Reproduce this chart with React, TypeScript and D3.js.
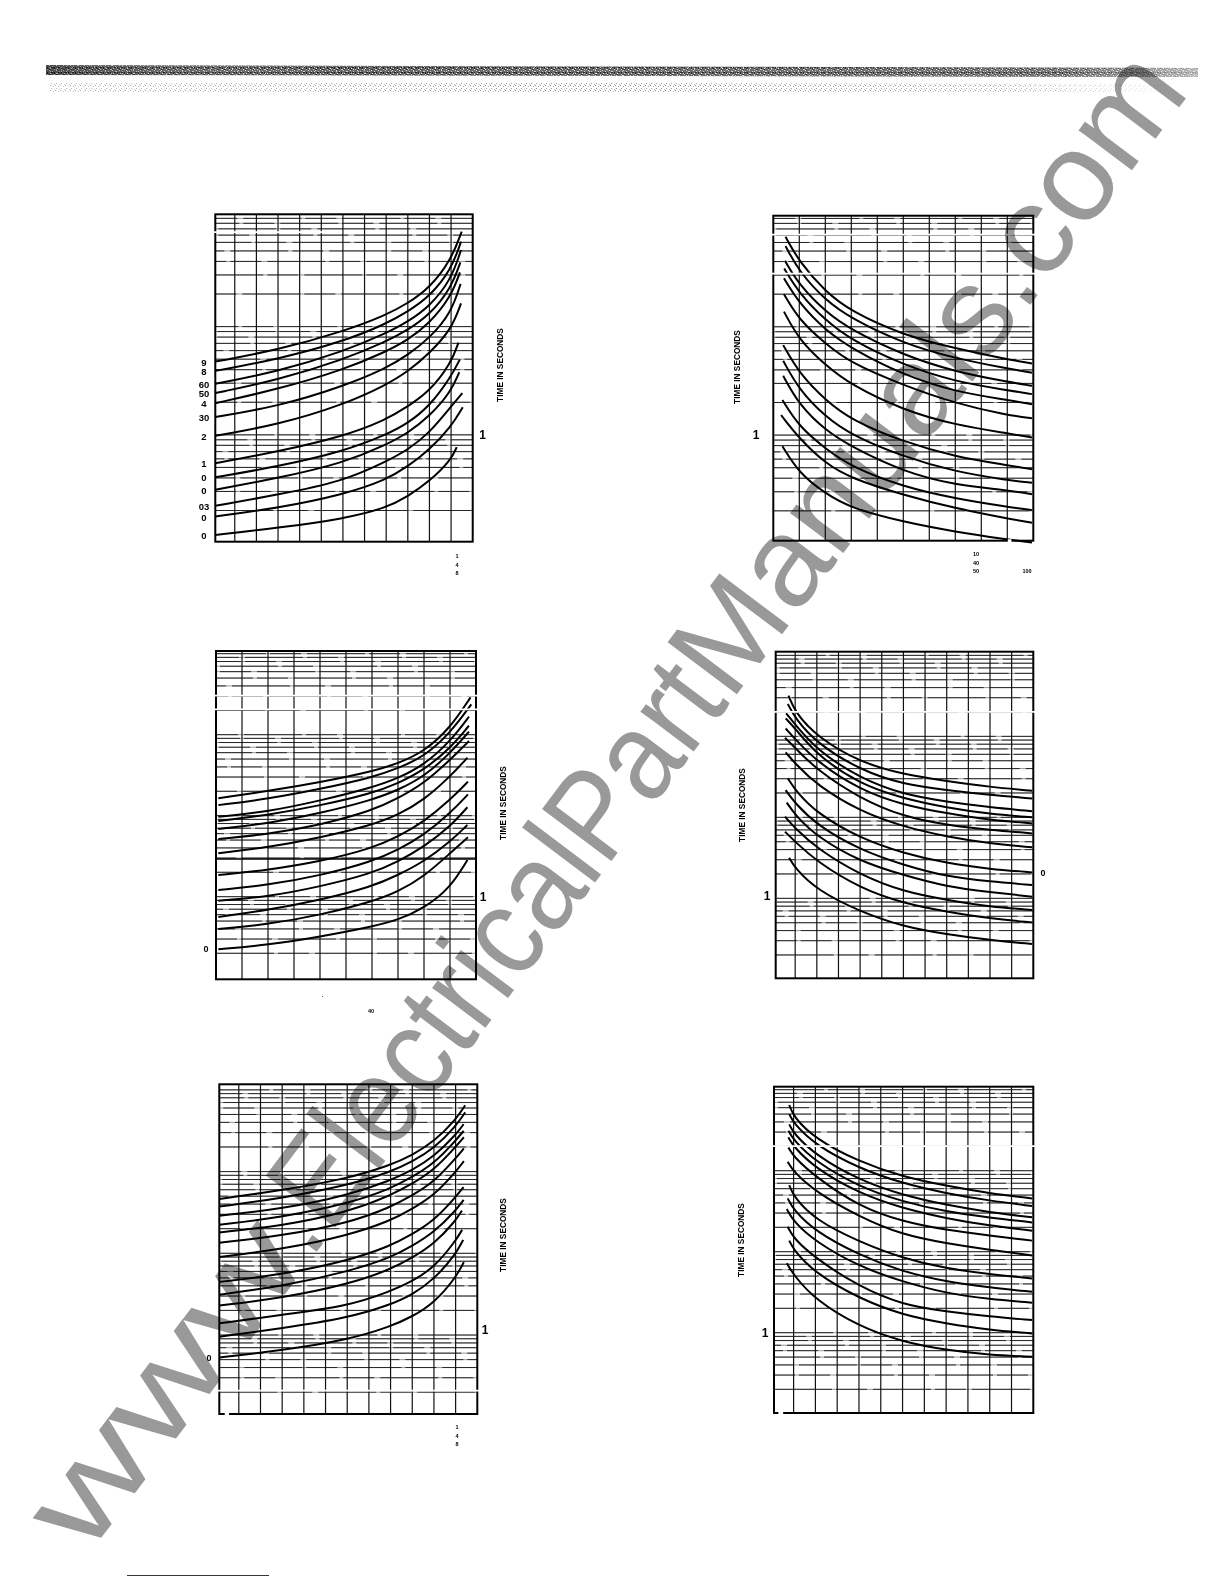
import * as d3 from "d3";

const FONT = "'Liberation Sans', Arial, sans-serif";

// panel 1 - rising curves, 12 divisions
const stationsA = [0, 2.9, 5.9, 7.9, 8.9, 9.9, 10.9];
const endsA = [11.39, 11.36, 11.36, 11.33, 11.31, 11.34, 11.36, 11.24, 11.31, 11.28, 11.42, 11.44, 11.16];
const timesA = [
  [4.75, 6.09, 8.99, 12.8, 16.4, 22.6, 41.2, 75.3],
  [3.9, 5.0, 7.27, 10.6, 13.8, 18.9, 33.3, 61],
  [2.96, 3.84, 5.87, 8.67, 11.1, 15.3, 27, 51],
  [2.43, 3.22, 4.93, 7.27, 9.31, 12.8, 22.6, 39.2],
  [1.96, 2.64, 3.98, 5.87, 7.53, 10.7, 18.9, 31.7],
  [1.46, 1.83, 2.8, 4.12, 5.47, 7.8, 13.3, 24.8],
  [0.98, 1.24, 1.89, 2.89, 3.84, 5.67, 9.31, 16.4],
  [0.547, 0.7, 0.965, 1.38, 1.83, 2.51, 4.59, 7.1],
  [0.405, 0.51, 0.7, 1, 1.28, 1.83, 3.45, 5.0],
  [0.311, 0.398, 0.547, 0.808, 1.04, 1.48, 2.51, 3.8],
  [0.221, 0.28, 0.371, 0.567, 0.727, 1.04, 1.83, 2.43],
  [0.176, 0.211, 0.28, 0.384, 0.51, 0.727, 1.19, 1.8],
  [0.119, 0.138, 0.167, 0.211, 0.27, 0.371, 0.587, 0.77],
];
const labelsA = ["9", "8", "60", "50", "4", "30", "2", "1", "0", "0", "03", "0", "0"];

// panel 2 - falling curves, 10 divisions
const stationsB = [1, 2, 3, 5, 7, 9, 9.95];
const startsB = [0.47, 0.47, 0.45, 0.42, 0.41, 0.41, 0.41, 0.38, 0.38, 0.38, 0.35, 0.3, 0.35];
const timesB = [
  [67.7, 39.8, 21.1, 13.8, 8.37, 6.31, 5.0, 4.59],
  [55.5, 32.2, 17.6, 11.9, 7.01, 5.1, 4.12, 3.76],
  [40.6, 24.3, 13.8, 9.31, 5.47, 3.84, 3.11, 2.85],
  [34.5, 20.3, 11.5, 7.53, 4.43, 3.11, 2.6, 2.39],
  [28, 16.4, 9.31, 6.31, 3.58, 2.51, 2.11, 1.93],
  [20, 11.5, 7.01, 4.59, 2.89, 1.96, 1.53, 1.43],
  [13.8, 7.53, 4.43, 2.89, 1.7, 1.24, 1.04, 0.95],
  [6.77, 3.71, 2.11, 1.38, 0.867, 0.631, 0.529, 0.483],
  [4.86, 2.6, 1.48, 1, 0.631, 0.459, 0.384, 0.363],
  [3.53, 1.89, 1.11, 0.78, 0.459, 0.345, 0.311, 0.285],
  [2.11, 1.19, 0.753, 0.51, 0.333, 0.26, 0.218, 0.203],
  [1.53, 0.93, 0.547, 0.398, 0.28, 0.211, 0.17, 0.155],
  [0.79, 0.443, 0.289, 0.211, 0.158, 0.128, 0.109, 0.102],
];

// panel 3 - rising curves, 10 divisions
const stationsC = [0.09, 2, 4, 6, 7, 8, 9];
const endsC = [9.79, 9.82, 9.73, 9.73, 9.73, 9.73, 9.67, 9.69, 9.69, 9.67, 9.67, 9.69, 9.67];
const timesC = [
  [16.4, 20.1, 25.8, 35, 44.2, 61.6, 120, 289],
  [13.5, 16.1, 21.3, 29.5, 38.4, 53.5, 104, 237],
  [9.7, 11.2, 15.3, 22.2, 28.9, 42.2, 81.9, 167],
  [8.6, 10.2, 13.3, 18.9, 25, 36.6, 67.7, 129],
  [6.84, 8.03, 10.7, 15.6, 20.7, 30.3, 58.9, 109],
  [5.15, 5.89, 7.66, 11.5, 16.4, 25, 48.7, 83.5],
  [3.43, 4.06, 5.35, 7.66, 10.2, 15.6, 30.3, 52],
  [1.85, 2.13, 2.71, 3.95, 5.5, 8.42, 15.6, 26.3],
  [1.21, 1.39, 1.82, 2.71, 3.77, 5.77, 10.7, 18.3],
  [0.893, 1, 1.33, 1.94, 2.71, 4.14, 7.3, 12.7],
  [0.563, 0.684, 0.91, 1.33, 1.85, 2.71, 4.77, 7.66],
  [0.398, 0.455, 0.593, 0.868, 1.15, 1.77, 3.43, 5.41],
  [0.224, 0.253, 0.32, 0.426, 0.515, 0.72, 1.27, 2.84],
];

// panel 4 - falling curves, 12 divisions
const stationsD = [0.9, 1.9, 3.9, 5.9, 7.9, 9.9, 11.85];
const startsD = [0.59, 0.56, 0.48, 0.46, 0.46, 0.43, 0.46, 0.56, 0.46, 0.51, 0.43, 0.43, 0.62];
const timesD = [
  [318, 198, 99, 47.7, 33.9, 28.1, 23.7, 21.3],
  [251, 167, 81.9, 38.4, 25.5, 21.7, 18.9, 17.1],
  [192, 141, 67.7, 30.3, 19.2, 15.6, 13.3, 11.9],
  [167, 125, 58.9, 25.5, 17.1, 13.2, 11, 10],
  [125, 92.5, 48.7, 21.7, 14.2, 11.2, 9.25, 8.42],
  [96, 72.3, 38.4, 17.1, 10.2, 8.03, 6.97, 6.34],
  [63.4, 46.3, 25, 11.8, 7.66, 5.77, 4.77, 4.26],
  [30.3, 21.7, 11.2, 5.5, 3.6, 2.71, 2.3, 2.09],
  [21.7, 14.9, 8.03, 3.95, 2.58, 1.85, 1.61, 1.46],
  [15.2, 10.7, 5.77, 2.84, 1.94, 1.39, 1.19, 1.05],
  [10.2, 7.3, 4.14, 1.94, 1.21, 0.953, 0.787, 0.72],
  [6.65, 5, 2.84, 1.33, 0.868, 0.684, 0.563, 0.505],
  [3.18, 2.35, 1.27, 0.684, 0.447, 0.36, 0.305, 0.273],
];

// panel 5 - rising curves, 12 divisions
const stationsE = [0, 2.9, 5.9, 7.9, 8.9, 9.9, 10.9];
const endsE = [11.34, 11.34, 11.27, 11.27, 11.28, 11.28, 11.28, 11.27, 11.27, 11.19, 11.2, 11.25, 11.28];
const timesE = [
  [46.3, 58.9, 81.9, 120, 159, 232, 430, 647],
  [37.3, 47.3, 67.7, 98.9, 132, 192, 356, 530],
  [28.9, 35, 51, 78, 104, 152, 281, 380],
  [22.4, 27.6, 40.3, 61.6, 86, 125, 239, 315],
  [18, 21.7, 31.8, 51, 71, 104, 201, 263],
  [13.5, 16.4, 23.2, 36.6, 51, 74.5, 145, 192],
  [9, 11.2, 16.4, 25, 35, 51, 98.9, 134],
  [4.47, 5.5, 8.03, 12.3, 17.1, 25, 48.7, 64.7],
  [3.12, 3.95, 5.94, 8.83, 12.3, 18, 33.3, 45],
  [2.3, 2.84, 4.14, 6.34, 8.83, 12.9, 25, 33.3],
  [1.39, 1.77, 2.24, 3.43, 4.55, 6.65, 14.2, 19.4],
  [0.953, 1.21, 1.61, 2.35, 3.12, 4.77, 9.7, 14.6],
  [0.53, 0.653, 0.868, 1.27, 1.68, 2.46, 5, 7.8],
];

// panel 6 - falling curves, 12 divisions
const stationsF = [0.9, 1.9, 3.9, 5.9, 7.9, 9.9, 11.85];
const startsF = [0.7, 0.7, 0.7, 0.66, 0.66, 0.66, 0.63, 0.7, 0.63, 0.59, 0.63, 0.7, 0.59];
const timesF = [
  [647, 463, 246, 129, 84.2, 65, 52.5, 45.5],
  [500, 384, 207, 107, 69.7, 52.5, 42.6, 36.6],
  [373, 289, 156, 76.6, 50, 37.7, 30.6, 26.6],
  [312, 239, 129, 63.4, 41.4, 31.2, 26.3, 23],
  [258, 198, 107, 52.5, 34.3, 25.8, 20.9, 18.2],
  [194, 149, 84.2, 36, 23.5, 18.5, 15.8, 13.7],
  [129, 97, 55, 27.1, 16.1, 12.7, 10.5, 9],
  [66.5, 47.7, 24.6, 13.3, 8.3, 6.2, 5.25, 4.68],
  [45.5, 32.7, 17.7, 9.1, 5.66, 4.26, 3.6, 3.2],
  [33.6, 23.5, 13.3, 6.55, 4.26, 3.06, 2.6, 2.35],
  [20.3, 14.6, 8.3, 3.7, 2.2, 1.82, 1.58, 1.43],
  [13.7, 10.5, 5.4, 2.65, 1.65, 1.3, 1.08, 0.98],
  [7.2, 5.15, 2.53, 1.19, 0.77, 0.61, 0.53, 0.505],
];

const xTicks10 = d3.range(0, 11);
const xTicks12 = [0, ...d3.range(0.9, 12, 1)];

const axisTitle = "TIME IN SECONDS";

// page boxes and read-off domains for the six charts
const panels = [
  {
    box: [215.3, 214.3, 472.7, 541.7], xMax: 11.9, xTicks: xTicks12, yDomain: [0.103, 109],
    stations: stationsA, ends: endsA, starts: null, times: timesA, leftLabels: labelsA,
    gaps: [[74.5, 0, 5]], heavy: [], nicks: [], titleX: 502.5, titleY: 365,
    one: [482.7, 1, 12], zero: null,
    small: [["1", 457, 556], ["4", 457, 564.5], ["8", 457, 573]],
  },
  {
    box: [773.3, 215.7, 1033.3, 540.7], xMax: 10, xTicks: xTicks10, yDomain: [0.106, 106],
    stations: stationsB, ends: null, starts: startsB, times: timesB, leftLabels: null,
    gaps: [[71, 0, 10], [31, 0, 10]], heavy: [], nicks: [[9.02, 9.16]], titleX: 740, titleY: 367,
    one: [756, 1, 12], zero: null,
    small: [["10", 976, 554], ["40", 976, 562.5], ["50", 976, 571], ["100", 1027, 571]],
  },
  {
    box: [216, 651, 476, 979.3], xMax: 10, xTicks: xTicks10, yDomain: [0.0955, 1079],
    stations: stationsC, ends: endsC, starts: null, times: timesC, leftLabels: null,
    gaps: [[303, 0, 10], [205, 0, 10]], heavy: [2.92], nicks: [], titleX: 505.5, titleY: 803,
    one: [483, 1, 12], zero: [206, 0.224],
    small: [["40", 371, 1011]],
  },
  {
    box: [775.7, 651.7, 1033.3, 978.3], xMax: 11.9, xTicks: xTicks12, yDomain: [0.103, 1110],
    stations: stationsD, ends: null, starts: startsD, times: timesD, leftLabels: null,
    gaps: [[201, 0, 11.9]], heavy: [], nicks: [], titleX: 744.5, titleY: 805,
    one: [767, 1.06, 12], zero: [1043, 2.03],
    small: [],
  },
  {
    box: [219.3, 1084.3, 477.3, 1414], xMax: 11.9, xTicks: xTicks12, yDomain: [0.108, 1170],
    stations: stationsE, ends: endsE, starts: null, times: timesE, leftLabels: null,
    gaps: [[0.209, 0, 11.9]], heavy: [], nicks: [[0.25, 0.45]], titleX: 505.5, titleY: 1235,
    one: [485, 1.15, 12], zero: [209, 0.53],
    small: [["1", 457, 1427], ["4", 457, 1435.5], ["8", 457, 1444]],
  },
  {
    box: [774, 1086.7, 1033.3, 1413], xMax: 11.9, xTicks: xTicks12, yDomain: [0.102, 1089],
    stations: stationsF, ends: null, starts: startsF, times: timesF, leftLabels: null,
    gaps: [[201, 0, 11.9]], heavy: [], nicks: [[0.2, 0.42]], titleX: 743.5, titleY: 1240,
    one: [765, 1, 12], zero: null,
    small: [],
  },
];

const Panel = ({ p }: { p: (typeof panels)[number] }) => {
  const [x0, y0, x1, y1] = p.box;
  const x = d3.scaleLinear().domain([0, p.xMax]).range([x0, x1]);
  const y = d3.scaleLog().domain(p.yDomain).range([y1, y0]);
  const line = d3
    .line<[number, number]>()
    .x((d) => x(d[0]))
    .y((d) => y(d[1]))
    .curve(d3.curveBasis);

  const yTicks = y.ticks().filter((t) => y(t) > y0 + 2 && y(t) < y1 - 2);

  return (
    <g>
      {yTicks.map((t, i) => (
        <g key={t}>
          <line x1={x0} x2={x1} y1={y(t)} y2={y(t)} stroke="#8a8a8a" strokeWidth={0.9} />
          <line
            x1={x0}
            x2={x1}
            y1={y(t)}
            y2={y(t)}
            stroke="#1a1a1a"
            strokeWidth={0.9}
            strokeDasharray="58 4 31 6"
            strokeDashoffset={i * 37}
          />
        </g>
      ))}
      {p.xTicks.slice(1, -1).map((t) => (
        <line key={t} x1={x(t)} x2={x(t)} y1={y0} y2={y1} stroke="#111" strokeWidth={1.2} />
      ))}
      {p.times.map((vals, i) => {
        const xs = p.starts ? [p.starts[i], ...p.stations] : [...p.stations, p.ends![i]];
        const pts = vals.map((v, j) => [xs[j], v] as [number, number]);
        return <path key={i} d={line(pts)!} fill="none" stroke="#000" strokeWidth={2} />;
      })}
      <rect x={x0} y={y0} width={x1 - x0} height={y1 - y0} fill="none" stroke="#000" strokeWidth={2} />
      {p.heavy.map((t) => (
        <line key={t} x1={x0} x2={x1} y1={y(t)} y2={y(t)} stroke="#000" strokeWidth={1.4} />
      ))}
      {p.gaps.map(([t, a, b]) => (
        <line key={t} x1={x(a) - 2} x2={x(b) + 2} y1={y(t)} y2={y(t)} stroke="#fff" strokeWidth={1.8} />
      ))}
      {p.nicks.map(([a, b]) => (
        <line key={a} x1={x(a)} x2={x(b)} y1={y1} y2={y1} stroke="#fff" strokeWidth={3} />
      ))}
      <text
        transform={`translate(${p.titleX},${p.titleY}) rotate(-90)`}
        textAnchor="middle"
        fontFamily={FONT}
        fontWeight="bold"
        fontSize={8.3}
      >
        {axisTitle}
      </text>
      <text x={p.one[0]} y={y(p.one[1]) + 4} textAnchor="middle" fontFamily={FONT} fontWeight="bold" fontSize={p.one[2]}>
        1
      </text>
      {p.zero && (
        <text x={p.zero[0]} y={y(p.zero[1]) + 3} textAnchor="middle" fontFamily={FONT} fontWeight="bold" fontSize={9}>
          0
        </text>
      )}
      {p.leftLabels &&
        p.leftLabels.map((s, i) => (
          <text key={i} x={204} y={y(p.times[i][0]) + 4} textAnchor="middle" fontFamily={FONT} fontWeight="bold" fontSize={9.5}>
            {s}
          </text>
        ))}
      {p.small.map(([s, tx, ty]) => (
        <text key={s + ty} x={tx} y={Number(ty) + 2} textAnchor="middle" fontFamily={FONT} fontWeight="bold" fontSize={5.5}>
          {s}
        </text>
      ))}
    </g>
  );
};

export default function App() {
  return (
    <svg width={1224} height={1584} style={{ position: "absolute", left: 0, top: 0, background: "#fff" }}>
      <defs>
        <pattern id="grainDark" width="7" height="5" patternUnits="userSpaceOnUse">
          <rect width="7" height="5" fill="#666" />
          <rect x="0" y="0" width="1" height="1" fill="#ddd" />
          <rect x="3" y="1" width="1" height="1" fill="#ccc" />
          <rect x="1" y="3" width="1" height="1" fill="#eee" />
          <rect x="5" y="4" width="1" height="1" fill="#ccc" />
          <rect x="2" y="2" width="2" height="1" fill="#222" />
          <rect x="5" y="2" width="1" height="2" fill="#222" />
          <rect x="0" y="4" width="2" height="1" fill="#333" />
        </pattern>
        <pattern id="grainMix" width="11" height="4" patternUnits="userSpaceOnUse">
          <rect x="1" y="1" width="1" height="1" fill="#fff" opacity="0.7" />
          <rect x="6" y="3" width="1" height="1" fill="#fff" opacity="0.7" />
          <rect x="9" y="0" width="1" height="1" fill="#000" opacity="0.5" />
        </pattern>
        <pattern id="grainLight" width="5" height="5" patternUnits="userSpaceOnUse">
          <rect x="0" y="0" width="1" height="1" fill="#888" />
          <rect x="3" y="1" width="1" height="1" fill="#aaa" />
          <rect x="1" y="3" width="1" height="1" fill="#999" />
          <rect x="4" y="4" width="1" height="1" fill="#bbb" />
        </pattern>
        <linearGradient id="bandShade" x1="0" x2="1" y1="0" y2="0">
          <stop offset="0" stopColor="#000" stopOpacity="0.25" />
          <stop offset="0.25" stopColor="#fff" stopOpacity="0" />
          <stop offset="0.88" stopColor="#fff" stopOpacity="0.1" />
          <stop offset="1" stopColor="#fff" stopOpacity="0.55" />
        </linearGradient>
        <linearGradient id="lightShade" x1="0" x2="1" y1="0" y2="0">
          <stop offset="0" stopColor="#fff" stopOpacity="0.35" />
          <stop offset="0.5" stopColor="#fff" stopOpacity="0" />
          <stop offset="0.85" stopColor="#fff" stopOpacity="0.2" />
          <stop offset="1" stopColor="#fff" stopOpacity="0.9" />
        </linearGradient>
      </defs>

      <polygon points="46,65 1198,68 1198,77 46,75" fill="url(#grainDark)" />
      <polygon points="46,65 1198,68 1198,77 46,75" fill="url(#grainMix)" />
      <polygon points="46,65 1198,68 1198,77 46,75" fill="url(#bandShade)" />
      <polygon points="50,82 1170,84 1170,93 50,92" fill="url(#grainLight)" />
      <polygon points="50,82 1170,84 1170,93 50,92" fill="url(#lightShade)" />

      {panels.map((p, i) => (
        <Panel key={i} p={p} />
      ))}

      <rect x={322} y={996} width={1} height={1} fill="#555" />
      <line x1={127} x2={269} y1={1575.5} y2={1575.5} stroke="#1c2fa0" strokeWidth={1} />

      <g transform="translate(86,1558) rotate(-53)" fontFamily={FONT} fontSize={126} fill="#999" style={{ mixBlendMode: "multiply" }}>
        <text x={0} y={0} textLength={373} lengthAdjust="spacingAndGlyphs">
          www
        </text>
        <text x={373} y={0} textLength={698} lengthAdjust="spacingAndGlyphs">
          .ElectricalPart
        </text>
        <text x={1071} y={0} textLength={765} lengthAdjust="spacingAndGlyphs">
          Manuals.com
        </text>
      </g>
    </svg>
  );
}
